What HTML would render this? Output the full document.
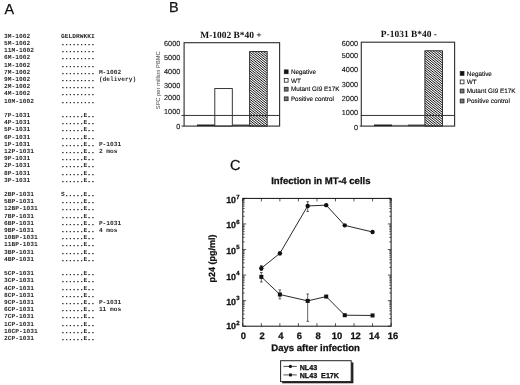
<!DOCTYPE html>
<html lang="en"><head><meta charset="utf-8"><title>Figure</title>
<style>
html,body{margin:0;padding:0;background:#fff;}
body{width:520px;height:385px;overflow:hidden;}
svg text{white-space:pre;}
svg{display:block;text-rendering:geometricPrecision;will-change:transform;}
.sans{font-family:'Liberation Sans', Arial, Helvetica, sans-serif;}
.serif{font-family:'Liberation Serif', 'Times New Roman', serif;font-weight:bold;}
.mono{font-family:'Liberation Mono', 'Courier New', monospace;font-weight:bold;}
.sb{font-family:'Liberation Sans', Arial, Helvetica, sans-serif;font-weight:bold;stroke:#111;stroke-width:0.28px;}
</style></head><body>
<svg width="520" height="385" viewBox="0 0 520 385">
<defs>
</defs>
<rect width="520" height="385" fill="#fff"/>
<text class="sans" x="4.4" y="14.2" font-size="14.4" fill="#111" stroke="#111" stroke-width="0.25">A</text>
<text class="sans" x="169.0" y="11.6" font-size="14.4" fill="#111" stroke="#111" stroke-width="0.25">B</text>
<text class="sans" x="229.9" y="170.2" font-size="14.5" fill="#111" stroke="#111" stroke-width="0.25">C</text>
<g class="mono" font-size="6.233" fill="#2c2c2c">
<text x="4.10" y="37.80">3M-1002</text>
<text x="61.10" y="37.80" stroke="#2c2c2c" stroke-width="0.32">         </text>
<text x="61.10" y="37.80">GELDRWKKI</text>
<text x="4.10" y="44.99">5M-1002</text>
<text x="61.10" y="44.99" stroke="#2c2c2c" stroke-width="0.32">.........</text>
<text x="4.10" y="52.19">11M-1002</text>
<text x="61.10" y="52.19" stroke="#2c2c2c" stroke-width="0.32">.........</text>
<text x="4.10" y="59.38">6M-1002</text>
<text x="61.10" y="59.38" stroke="#2c2c2c" stroke-width="0.32">.........</text>
<text x="4.10" y="66.58">1M-1002</text>
<text x="61.10" y="66.58" stroke="#2c2c2c" stroke-width="0.32">.........</text>
<text x="4.10" y="73.78">7M-1002</text>
<text x="61.10" y="73.78" stroke="#2c2c2c" stroke-width="0.32">.........</text>
<text x="98.90" y="73.78">M-1002</text>
<text x="4.10" y="80.97">9M-1002</text>
<text x="61.10" y="80.97" stroke="#2c2c2c" stroke-width="0.32">.........</text>
<text x="98.90" y="80.97">(delivery)</text>
<text x="4.10" y="88.16">2M-1002</text>
<text x="61.10" y="88.16" stroke="#2c2c2c" stroke-width="0.32">.........</text>
<text x="4.10" y="95.36">4M-1002</text>
<text x="61.10" y="95.36" stroke="#2c2c2c" stroke-width="0.32">.........</text>
<text x="4.10" y="102.55">10M-1002</text>
<text x="61.10" y="102.55" stroke="#2c2c2c" stroke-width="0.32">.........</text>
<text x="4.10" y="116.95">7P-1031</text>
<text x="61.10" y="116.95" stroke="#2c2c2c" stroke-width="0.32">...... ..</text>
<text x="61.10" y="116.95">      E</text>
<text x="4.10" y="124.14">4P-1031</text>
<text x="61.10" y="124.14" stroke="#2c2c2c" stroke-width="0.32">...... ..</text>
<text x="61.10" y="124.14">      E</text>
<text x="4.10" y="131.33">5P-1031</text>
<text x="61.10" y="131.33" stroke="#2c2c2c" stroke-width="0.32">...... ..</text>
<text x="61.10" y="131.33">      E</text>
<text x="4.10" y="138.53">6P-1031</text>
<text x="61.10" y="138.53" stroke="#2c2c2c" stroke-width="0.32">...... ..</text>
<text x="61.10" y="138.53">      E</text>
<text x="4.10" y="145.73">1P-1031</text>
<text x="61.10" y="145.73" stroke="#2c2c2c" stroke-width="0.32">...... ..</text>
<text x="61.10" y="145.73">      E</text>
<text x="98.90" y="145.73">P-1031</text>
<text x="4.10" y="152.92">12P-1031</text>
<text x="61.10" y="152.92" stroke="#2c2c2c" stroke-width="0.32">...... ..</text>
<text x="61.10" y="152.92">      E</text>
<text x="98.90" y="152.92">2 mos</text>
<text x="4.10" y="160.12">9P-1031</text>
<text x="61.10" y="160.12" stroke="#2c2c2c" stroke-width="0.32">...... ..</text>
<text x="61.10" y="160.12">      E</text>
<text x="4.10" y="167.31">2P-1031</text>
<text x="61.10" y="167.31" stroke="#2c2c2c" stroke-width="0.32">...... ..</text>
<text x="61.10" y="167.31">      E</text>
<text x="4.10" y="174.50">8P-1031</text>
<text x="61.10" y="174.50" stroke="#2c2c2c" stroke-width="0.32">...... ..</text>
<text x="61.10" y="174.50">      E</text>
<text x="4.10" y="181.70">3P-1031</text>
<text x="61.10" y="181.70" stroke="#2c2c2c" stroke-width="0.32">...... ..</text>
<text x="61.10" y="181.70">      E</text>
<text x="4.10" y="196.09">2BP-1031</text>
<text x="61.10" y="196.09" stroke="#2c2c2c" stroke-width="0.32"> ..... ..</text>
<text x="61.10" y="196.09">S     E</text>
<text x="4.10" y="203.29">5BP-1031</text>
<text x="61.10" y="203.29" stroke="#2c2c2c" stroke-width="0.32">...... ..</text>
<text x="61.10" y="203.29">      E</text>
<text x="4.10" y="210.48">12BP-1031</text>
<text x="61.10" y="210.48" stroke="#2c2c2c" stroke-width="0.32">...... ..</text>
<text x="61.10" y="210.48">      E</text>
<text x="4.10" y="217.68">7BP-1031</text>
<text x="61.10" y="217.68" stroke="#2c2c2c" stroke-width="0.32">...... ..</text>
<text x="61.10" y="217.68">      E</text>
<text x="4.10" y="224.87">6BP-1031</text>
<text x="61.10" y="224.87" stroke="#2c2c2c" stroke-width="0.32">...... ..</text>
<text x="61.10" y="224.87">      E</text>
<text x="98.90" y="224.87">P-1031</text>
<text x="4.10" y="232.06">9BP-1031</text>
<text x="61.10" y="232.06" stroke="#2c2c2c" stroke-width="0.32">...... ..</text>
<text x="61.10" y="232.06">      E</text>
<text x="98.90" y="232.06">4 mos</text>
<text x="4.10" y="239.26">10BP-1031</text>
<text x="61.10" y="239.26" stroke="#2c2c2c" stroke-width="0.32">...... ..</text>
<text x="61.10" y="239.26">      E</text>
<text x="4.10" y="246.45">11BP-1031</text>
<text x="61.10" y="246.45" stroke="#2c2c2c" stroke-width="0.32">...... ..</text>
<text x="61.10" y="246.45">      E</text>
<text x="4.10" y="253.65">3BP-1031</text>
<text x="61.10" y="253.65" stroke="#2c2c2c" stroke-width="0.32">...... ..</text>
<text x="61.10" y="253.65">      E</text>
<text x="4.10" y="260.85">4BP-1031</text>
<text x="61.10" y="260.85" stroke="#2c2c2c" stroke-width="0.32">...... ..</text>
<text x="61.10" y="260.85">      E</text>
<text x="4.10" y="275.24">5CP-1031</text>
<text x="61.10" y="275.24" stroke="#2c2c2c" stroke-width="0.32">...... ..</text>
<text x="61.10" y="275.24">      E</text>
<text x="4.10" y="282.43">3CP-1031</text>
<text x="61.10" y="282.43" stroke="#2c2c2c" stroke-width="0.32">...... ..</text>
<text x="61.10" y="282.43">      E</text>
<text x="4.10" y="289.62">4CP-1031</text>
<text x="61.10" y="289.62" stroke="#2c2c2c" stroke-width="0.32">...... ..</text>
<text x="61.10" y="289.62">      E</text>
<text x="4.10" y="296.82">8CP-1031</text>
<text x="61.10" y="296.82" stroke="#2c2c2c" stroke-width="0.32">...... ..</text>
<text x="61.10" y="296.82">      E</text>
<text x="4.10" y="304.02">9CP-1031</text>
<text x="61.10" y="304.02" stroke="#2c2c2c" stroke-width="0.32">...... ..</text>
<text x="61.10" y="304.02">      E</text>
<text x="98.90" y="304.02">P-1031</text>
<text x="4.10" y="311.21">6CP-1031</text>
<text x="61.10" y="311.21" stroke="#2c2c2c" stroke-width="0.32">...... ..</text>
<text x="61.10" y="311.21">      E</text>
<text x="98.90" y="311.21">11 mos</text>
<text x="4.10" y="318.41">7CP-1031</text>
<text x="61.10" y="318.41" stroke="#2c2c2c" stroke-width="0.32">...... ..</text>
<text x="61.10" y="318.41">      E</text>
<text x="4.10" y="325.60">1CP-1031</text>
<text x="61.10" y="325.60" stroke="#2c2c2c" stroke-width="0.32">...... ..</text>
<text x="61.10" y="325.60">      E</text>
<text x="4.10" y="332.80">10CP-1031</text>
<text x="61.10" y="332.80" stroke="#2c2c2c" stroke-width="0.32">...... ..</text>
<text x="61.10" y="332.80">      E</text>
<text x="4.10" y="339.99">2CP-1031</text>
<text x="61.10" y="339.99" stroke="#2c2c2c" stroke-width="0.32">...... ..</text>
<text x="61.10" y="339.99">      E</text>
</g>
<text class="serif" x="231.0" y="37.6" font-size="9.45" text-anchor="middle" fill="#111">M-1002 B*40 +</text>
<rect x="197.0" y="124.55" width="17.80" height="1.55" fill="#111"/>
<rect x="214.8" y="88.57" width="17.50" height="37.53" fill="#fff" stroke="#222" stroke-width="0.9"/>
<rect x="232.3" y="124.55" width="17.30" height="1.55" fill="#444"/>
<clipPath id="hc1"><rect x="249.6" y="51.60" width="17.60" height="74.50"/></clipPath>
<rect x="249.6" y="51.60" width="17.60" height="74.50" fill="#fff"/>
<g clip-path="url(#hc1)"><path d="M249.60 37.93 l17.60 14.26 M249.60 40.28 l17.60 14.26 M249.60 42.63 l17.60 14.26 M249.60 44.98 l17.60 14.26 M249.60 47.33 l17.60 14.26 M249.60 49.68 l17.60 14.26 M249.60 52.03 l17.60 14.26 M249.60 54.38 l17.60 14.26 M249.60 56.73 l17.60 14.26 M249.60 59.08 l17.60 14.26 M249.60 61.43 l17.60 14.26 M249.60 63.78 l17.60 14.26 M249.60 66.13 l17.60 14.26 M249.60 68.48 l17.60 14.26 M249.60 70.83 l17.60 14.26 M249.60 73.18 l17.60 14.26 M249.60 75.53 l17.60 14.26 M249.60 77.88 l17.60 14.26 M249.60 80.23 l17.60 14.26 M249.60 82.58 l17.60 14.26 M249.60 84.93 l17.60 14.26 M249.60 87.28 l17.60 14.26 M249.60 89.63 l17.60 14.26 M249.60 91.98 l17.60 14.26 M249.60 94.33 l17.60 14.26 M249.60 96.68 l17.60 14.26 M249.60 99.03 l17.60 14.26 M249.60 101.38 l17.60 14.26 M249.60 103.73 l17.60 14.26 M249.60 106.08 l17.60 14.26 M249.60 108.43 l17.60 14.26 M249.60 110.78 l17.60 14.26 M249.60 113.13 l17.60 14.26 M249.60 115.48 l17.60 14.26 M249.60 117.83 l17.60 14.26 M249.60 120.18 l17.60 14.26 M249.60 122.53 l17.60 14.26 M249.60 124.88 l17.60 14.26" stroke="#000" stroke-width="0.95" fill="none"/></g>
<rect x="249.6" y="51.60" width="17.60" height="74.50" fill="none" stroke="#222" stroke-width="0.9"/>
<rect x="184.1" y="42.7" width="95.50" height="83.40" fill="none" stroke="#333" stroke-width="1.15"/>
<line x1="181.50" y1="126.1" x2="184.1" y2="126.1" stroke="#333" stroke-width="1.0"/>
<line x1="181.50" y1="115.45" x2="279.6" y2="115.45" stroke="#333" stroke-width="1.0"/>
<g class="sans" font-size="7.3" fill="#111" stroke="#111" stroke-width="0.12" text-anchor="end">
<text x="180.3" y="128.95">0</text>
<text x="180.3" y="114.35">1000</text>
<text x="180.3" y="100.45">2000</text>
<text x="180.3" y="88.15">3000</text>
<text x="180.3" y="73.85">4000</text>
<text x="180.3" y="60.25">5000</text>
<text x="180.3" y="46.35">6000</text>
</g>
<g class="sans" font-size="6.35" fill="#000" stroke="#000" stroke-width="0.1">
<rect x="284.3" y="69.90" width="3.8" height="3.8" fill="#111" stroke="#222" stroke-width="0.8" />
<text x="290.90" y="74.05">Negative</text>
<rect x="284.3" y="78.40" width="3.8" height="3.8" fill="#fff" stroke="#222" stroke-width="0.8" />
<text x="290.90" y="82.55">WT</text>
<rect x="284.3" y="87.30" width="3.8" height="3.8" fill="#777" stroke="#222" stroke-width="0.8" />
<text x="290.90" y="91.45">Mutant GI9 E17K</text>
<rect x="284.3" y="96.90" width="3.8" height="3.8" fill="#777" stroke="#222" stroke-width="0.8" />
<text x="290.90" y="101.05">Positive control</text>
</g>
<text class="sans" font-size="5.8" fill="#444" text-anchor="middle" transform="translate(160.3 80.2) rotate(-90)">SFC per million PBMC</text>
<text class="serif" x="408.9" y="37.2" font-size="9.45" text-anchor="middle" fill="#111">P-1031 B*40 -</text>
<rect x="374.0" y="124.54" width="18.00" height="1.56" fill="#111"/>
<rect x="392.0" y="124.80" width="16.00" height="1.0" fill="#999"/>
<rect x="408.0" y="124.54" width="16.90" height="1.56" fill="#444"/>
<clipPath id="hc2"><rect x="424.9" y="50.80" width="17.60" height="75.30"/></clipPath>
<rect x="424.9" y="50.80" width="17.60" height="75.30" fill="#fff"/>
<g clip-path="url(#hc2)"><path d="M424.90 37.14 l17.60 14.26 M424.90 39.49 l17.60 14.26 M424.90 41.84 l17.60 14.26 M424.90 44.19 l17.60 14.26 M424.90 46.54 l17.60 14.26 M424.90 48.89 l17.60 14.26 M424.90 51.24 l17.60 14.26 M424.90 53.59 l17.60 14.26 M424.90 55.94 l17.60 14.26 M424.90 58.29 l17.60 14.26 M424.90 60.64 l17.60 14.26 M424.90 62.99 l17.60 14.26 M424.90 65.34 l17.60 14.26 M424.90 67.69 l17.60 14.26 M424.90 70.04 l17.60 14.26 M424.90 72.39 l17.60 14.26 M424.90 74.74 l17.60 14.26 M424.90 77.09 l17.60 14.26 M424.90 79.44 l17.60 14.26 M424.90 81.79 l17.60 14.26 M424.90 84.14 l17.60 14.26 M424.90 86.49 l17.60 14.26 M424.90 88.84 l17.60 14.26 M424.90 91.19 l17.60 14.26 M424.90 93.54 l17.60 14.26 M424.90 95.89 l17.60 14.26 M424.90 98.24 l17.60 14.26 M424.90 100.59 l17.60 14.26 M424.90 102.94 l17.60 14.26 M424.90 105.29 l17.60 14.26 M424.90 107.64 l17.60 14.26 M424.90 109.99 l17.60 14.26 M424.90 112.34 l17.60 14.26 M424.90 114.69 l17.60 14.26 M424.90 117.04 l17.60 14.26 M424.90 119.39 l17.60 14.26 M424.90 121.74 l17.60 14.26 M424.90 124.09 l17.60 14.26" stroke="#000" stroke-width="0.95" fill="none"/></g>
<rect x="424.9" y="50.80" width="17.60" height="75.30" fill="none" stroke="#222" stroke-width="0.9"/>
<rect x="361.3" y="42.2" width="93.30" height="83.90" fill="none" stroke="#333" stroke-width="1.15"/>
<line x1="359.70" y1="126.1" x2="361.3" y2="126.1" stroke="#333" stroke-width="1.0"/>
<line x1="360.70" y1="115.45" x2="454.6" y2="115.45" stroke="#333" stroke-width="1.0"/>
<g class="sans" font-size="7.3" fill="#111" stroke="#111" stroke-width="0.12" text-anchor="end">
<text x="358.0" y="129.55">0</text>
<text x="358.0" y="114.75">1000</text>
<text x="358.0" y="100.65">2000</text>
<text x="358.0" y="86.85">3000</text>
<text x="358.0" y="72.25">4000</text>
<text x="358.0" y="58.45">5000</text>
<text x="358.0" y="45.85">6000</text>
</g>
<g class="sans" font-size="6.35" fill="#000" stroke="#000" stroke-width="0.1">
<rect x="460.2" y="71.50" width="3.8" height="3.8" fill="#111" stroke="#222" stroke-width="0.8" />
<text x="466.80" y="75.65">Negative</text>
<rect x="460.2" y="80.00" width="3.8" height="3.8" fill="#fff" stroke="#222" stroke-width="0.8" />
<text x="466.80" y="84.15">WT</text>
<rect x="460.2" y="89.10" width="3.8" height="3.8" fill="#777" stroke="#222" stroke-width="0.8" />
<text x="466.80" y="93.25">Mutant GI9 E17K</text>
<rect x="460.2" y="99.10" width="3.8" height="3.8" fill="#777" stroke="#222" stroke-width="0.8" />
<text x="466.80" y="103.25">Positive control</text>
</g>
<text class="sb" x="320.9" y="184.2" font-size="9.57" text-anchor="middle" fill="#111">Infection in MT-4 cells</text>
<rect x="242.8" y="198.4" width="148.30" height="127.80" fill="none" stroke="#111" stroke-width="1"/>
<path d="M242.80 326.2 v-3.0 M242.80 198.4 v3.0 M261.34 326.2 v-3.0 M261.34 198.4 v3.0 M279.88 326.2 v-3.0 M279.88 198.4 v3.0 M298.41 326.2 v-3.0 M298.41 198.4 v3.0 M316.95 326.2 v-3.0 M316.95 198.4 v3.0 M335.49 326.2 v-3.0 M335.49 198.4 v3.0 M354.03 326.2 v-3.0 M354.03 198.4 v3.0 M372.56 326.2 v-3.0 M372.56 198.4 v3.0 M391.10 326.2 v-3.0 M391.10 198.4 v3.0 M242.8 326.20 h3.3 M391.1 326.20 h-3.3 M242.8 318.51 h1.8 M391.1 318.51 h-1.8 M242.8 314.00 h1.8 M391.1 314.00 h-1.8 M242.8 310.81 h1.8 M391.1 310.81 h-1.8 M242.8 308.33 h1.8 M391.1 308.33 h-1.8 M242.8 306.31 h1.8 M391.1 306.31 h-1.8 M242.8 304.60 h1.8 M391.1 304.60 h-1.8 M242.8 303.12 h1.8 M391.1 303.12 h-1.8 M242.8 301.81 h1.8 M391.1 301.81 h-1.8 M242.8 300.64 h3.3 M391.1 300.64 h-3.3 M242.8 292.95 h1.8 M391.1 292.95 h-1.8 M242.8 288.44 h1.8 M391.1 288.44 h-1.8 M242.8 285.25 h1.8 M391.1 285.25 h-1.8 M242.8 282.77 h1.8 M391.1 282.77 h-1.8 M242.8 280.75 h1.8 M391.1 280.75 h-1.8 M242.8 279.04 h1.8 M391.1 279.04 h-1.8 M242.8 277.56 h1.8 M391.1 277.56 h-1.8 M242.8 276.25 h1.8 M391.1 276.25 h-1.8 M242.8 275.08 h3.3 M391.1 275.08 h-3.3 M242.8 267.39 h1.8 M391.1 267.39 h-1.8 M242.8 262.88 h1.8 M391.1 262.88 h-1.8 M242.8 259.69 h1.8 M391.1 259.69 h-1.8 M242.8 257.21 h1.8 M391.1 257.21 h-1.8 M242.8 255.19 h1.8 M391.1 255.19 h-1.8 M242.8 253.48 h1.8 M391.1 253.48 h-1.8 M242.8 252.00 h1.8 M391.1 252.00 h-1.8 M242.8 250.69 h1.8 M391.1 250.69 h-1.8 M242.8 249.52 h3.3 M391.1 249.52 h-3.3 M242.8 241.83 h1.8 M391.1 241.83 h-1.8 M242.8 237.32 h1.8 M391.1 237.32 h-1.8 M242.8 234.13 h1.8 M391.1 234.13 h-1.8 M242.8 231.65 h1.8 M391.1 231.65 h-1.8 M242.8 229.63 h1.8 M391.1 229.63 h-1.8 M242.8 227.92 h1.8 M391.1 227.92 h-1.8 M242.8 226.44 h1.8 M391.1 226.44 h-1.8 M242.8 225.13 h1.8 M391.1 225.13 h-1.8 M242.8 223.96 h3.3 M391.1 223.96 h-3.3 M242.8 216.27 h1.8 M391.1 216.27 h-1.8 M242.8 211.76 h1.8 M391.1 211.76 h-1.8 M242.8 208.57 h1.8 M391.1 208.57 h-1.8 M242.8 206.09 h1.8 M391.1 206.09 h-1.8 M242.8 204.07 h1.8 M391.1 204.07 h-1.8 M242.8 202.36 h1.8 M391.1 202.36 h-1.8 M242.8 200.88 h1.8 M391.1 200.88 h-1.8 M242.8 199.57 h1.8 M391.1 199.57 h-1.8 M242.8 198.40 h3.3 M391.1 198.40 h-3.3" stroke="#111" stroke-width="0.7" fill="none"/>
<g class="sb" font-size="9.4" fill="#111" text-anchor="middle">
<text x="243.30" y="338.9">0</text>
<text x="262.02" y="338.9">2</text>
<text x="280.74" y="338.9">4</text>
<text x="299.46" y="338.9">6</text>
<text x="318.18" y="338.9">8</text>
<text x="336.90" y="338.9">10</text>
<text x="355.62" y="338.9">12</text>
<text x="374.34" y="338.9">14</text>
<text x="393.06" y="338.9">16</text>
</g>
<g class="sb" fill="#111">
<text x="226.2" y="328.90" font-size="8.9">10</text>
<text x="236.3" y="324.50" font-size="6.0">2</text>
<text x="226.2" y="304.50" font-size="8.9">10</text>
<text x="236.3" y="300.10" font-size="6.0">3</text>
<text x="226.2" y="279.50" font-size="8.9">10</text>
<text x="236.3" y="275.10" font-size="6.0">4</text>
<text x="226.2" y="253.80" font-size="8.9">10</text>
<text x="236.3" y="249.40" font-size="6.0">5</text>
<text x="226.2" y="227.90" font-size="8.9">10</text>
<text x="236.3" y="223.50" font-size="6.0">6</text>
<text x="226.2" y="203.10" font-size="8.9">10</text>
<text x="236.3" y="198.70" font-size="6.0">7</text>
</g>
<text class="sb" font-size="9.55" fill="#111" text-anchor="middle" x="315.6" y="350.6">Days after infection</text>
<text class="sb" font-size="9.0" fill="#111" text-anchor="middle" transform="translate(215.2 258.4) rotate(-90)">p24 (pg/ml)</text>
<path d="M261.34 268.18 L279.88 253.35 L307.68 205.94 L326.22 205.17 L344.76 225.37 L372.56 232.01" fill="none" stroke="#111" stroke-width="0.9"/>
<path d="M261.34 265.62 V270.48 M260.04 265.62 h2.6 M260.04 270.48 h2.6 M279.88 251.82 V254.89 M278.57 251.82 h2.6 M278.57 254.89 h2.6 M307.68 201.72 V211.44 M306.38 201.72 h2.6 M306.38 211.44 h2.6 M326.22 204.41 V205.94 M324.92 204.41 h2.6 M324.92 205.94 h2.6" fill="none" stroke="#222" stroke-width="0.7"/>
<circle cx="261.34" cy="268.18" r="2.2" fill="#111"/>
<circle cx="279.88" cy="253.35" r="2.2" fill="#111"/>
<circle cx="307.68" cy="205.94" r="2.2" fill="#111"/>
<circle cx="326.22" cy="205.17" r="2.2" fill="#111"/>
<circle cx="344.76" cy="225.37" r="2.2" fill="#111"/>
<circle cx="372.56" cy="232.01" r="2.2" fill="#111"/>
<path d="M261.34 276.87 L279.88 294.51 L307.68 300.90 L326.22 296.55 L344.76 315.21 L372.56 315.46" fill="none" stroke="#111" stroke-width="0.9"/>
<path d="M261.34 272.52 V281.98 M260.04 272.52 h2.6 M260.04 281.98 h2.6 M279.88 289.90 V298.85 M278.57 289.90 h2.6 M278.57 298.85 h2.6 M307.68 293.99 V321.34 M306.38 293.99 h2.6 M306.38 321.34 h2.6 M326.22 295.53 V297.57 M324.92 295.53 h2.6 M324.92 297.57 h2.6" fill="none" stroke="#222" stroke-width="0.7"/>
<rect x="259.34" y="274.87" width="4.0" height="4.0" fill="#111"/>
<rect x="277.88" y="292.51" width="4.0" height="4.0" fill="#111"/>
<rect x="305.68" y="298.90" width="4.0" height="4.0" fill="#111"/>
<rect x="324.22" y="294.55" width="4.0" height="4.0" fill="#111"/>
<rect x="342.76" y="313.21" width="4.0" height="4.0" fill="#111"/>
<rect x="370.56" y="313.46" width="4.0" height="4.0" fill="#111"/>
<rect x="282.2" y="362.4" width="71.2" height="20.9" fill="#222"/>
<rect x="280.6" y="360.7" width="70.6" height="20.9" fill="#fff" stroke="#222" stroke-width="1.0"/>
<path d="M283.4 366.4 H296.8 M283.4 374.9 H296.8" stroke="#222" stroke-width="0.8"/>
<circle cx="290.4" cy="366.4" r="1.6" fill="#111"/>
<rect x="289.0" y="373.5" width="2.9" height="2.9" fill="#111"/>
<g class="sb" font-size="7.15" fill="#111">
<text x="299.7" y="369.9">NL43</text>
<text x="299.7" y="378.4">NL43  E17K</text>
</g>
</svg>
</body></html>
